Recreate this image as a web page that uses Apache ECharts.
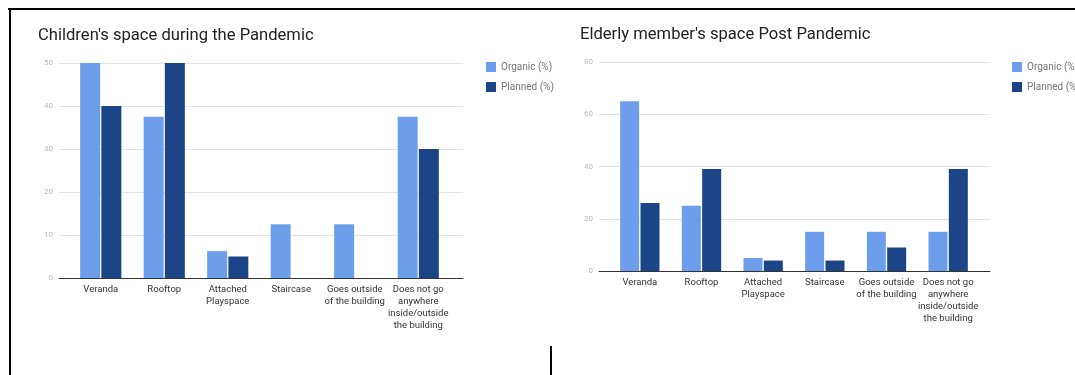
<!DOCTYPE html>
<html>
<head>
<meta charset="utf-8">
<script src="https://cdn.jsdelivr.net/npm/echarts@6/dist/echarts.min.js"></script>
<style>
  html, body { margin: 0; padding: 0; background: #fff; }
  #chart { width: 1075px; height: 375px; }
</style>
</head>
<body>
<div id="chart"></div>
<script>
// categories shared by both charts
const categories = [
  "Veranda",
  "Rooftop",
  "Attached\nPlayspace",
  "Staircase",
  "Goes outside\nof the building",
  "Does not go\nanywhere\ninside/outside\nthe building",
];

// Children's space during the Pandemic
const childOrganic = [50, 37.5, 6.25, 12.5, 12.5, 37.5];
const childPlanned = [40, 50, 5, 0, 0, 30];

// Elderly member's space Post Pandemic
const elderOrganic = [65, 25, 5, 15, 15, 15];
const elderPlanned = [26, 39, 4, 4, 9, 39];

const FONT = "Roboto, 'Noto Sans', sans-serif";
const LIGHT = "#6d9eeb";
const DARK = "#1c4587";

const chart = echarts.init(document.getElementById("chart"));

// grid pair per chart: wide one for grid lines / axis line, narrow one for the bars
function bgX(grid) {
  return {
    gridIndex: grid, type: "value", min: 0, max: 1,
    axisLine: { show: true, lineStyle: { color: "#333", width: 1 } },
    axisTick: { show: false }, axisLabel: { show: false }, splitLine: { show: false },
  };
}
function barX(grid) {
  return {
    gridIndex: grid, type: "category", data: categories,
    axisLine: { show: false }, axisTick: { show: false },
    axisLabel: { interval: 0, fontSize: 9.5, lineHeight: 12, color: "#333", margin: 6, fontFamily: FONT },
  };
}
function bgY(grid, max, step) {
  return {
    gridIndex: grid, type: "value", min: 0, max: max, interval: step,
    axisLine: { show: false }, axisTick: { show: false },
    axisLabel: { fontSize: 8, color: "#b8b8b8", margin: 6, fontFamily: FONT },
    splitLine: { lineStyle: { color: "#e2e2e2", width: 1 } },
  };
}
function barY(grid, max) {
  return { gridIndex: grid, type: "value", min: 0, max: max, show: false };
}
function legend(left) {
  return {
    left: left, top: 57, orient: "vertical", icon: "rect",
    itemWidth: 10, itemHeight: 10, itemGap: 10,
    textStyle: { fontSize: 10, color: "#757575", fontFamily: FONT },
    data: ["Organic (%)", "Planned (%)"],
  };
}

chart.setOption({
  animation: false,
  backgroundColor: "#fff",
  textStyle: { fontFamily: FONT },
  title: [
    { text: "Children's space during the Pandemic", left: 33, top: 22,
      textStyle: { fontSize: 16.6, fontWeight: "normal", color: "#212121", fontFamily: FONT } },
    { text: "Elderly member's space Post Pandemic", left: 575, top: 21,
      textStyle: { fontSize: 16.6, fontWeight: "normal", color: "#212121", fontFamily: FONT } },
  ],
  legend: [legend(481), legend(1007)],
  grid: [
    { left: 59, top: 63, width: 404, height: 215 },
    { left: 69, top: 63, width: 381, height: 215 },
    { left: 599, top: 62, width: 391, height: 209 },
    { left: 609, top: 62, width: 370, height: 209 },
  ],
  xAxis: [bgX(0), barX(1), bgX(2), barX(3)],
  yAxis: [bgY(0, 50, 10), barY(1, 50), bgY(2, 80, 20), barY(3, 80)],
  series: [
    { name: "Organic (%)", type: "bar", xAxisIndex: 1, yAxisIndex: 1, data: childOrganic,
      barWidth: 20, barGap: "6%", itemStyle: { color: LIGHT } },
    { name: "Planned (%)", type: "bar", xAxisIndex: 1, yAxisIndex: 1, data: childPlanned,
      barWidth: 20, barGap: "6%", itemStyle: { color: DARK } },
    { name: "Organic (%)", type: "bar", xAxisIndex: 3, yAxisIndex: 3, data: elderOrganic,
      barWidth: 19, barGap: "7%", itemStyle: { color: LIGHT } },
    { name: "Planned (%)", type: "bar", xAxisIndex: 3, yAxisIndex: 3, data: elderPlanned,
      barWidth: 19, barGap: "7%", itemStyle: { color: DARK } },
  ],
  // frame lines of the scanned page
  graphic: [
    { type: "line", shape: { x1: 8, y1: 9, x2: 1075, y2: 9 }, style: { stroke: "#000", lineWidth: 2 } },
    { type: "line", shape: { x1: 10, y1: 8, x2: 10, y2: 375 }, style: { stroke: "#000", lineWidth: 2 } },
    { type: "line", shape: { x1: 551, y1: 346, x2: 551, y2: 375 }, style: { stroke: "#000", lineWidth: 2 } },
  ],
});
</script>
</body>
</html>
